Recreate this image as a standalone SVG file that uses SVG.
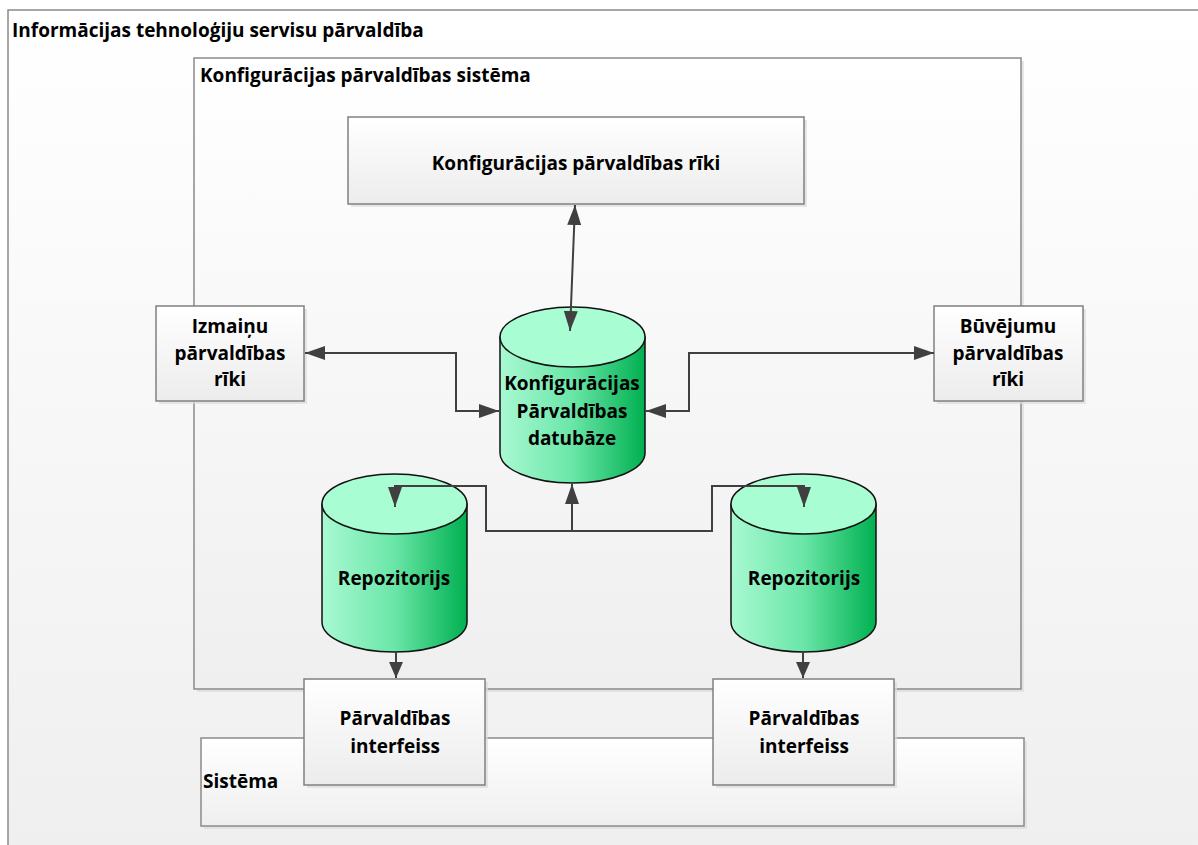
<svg xmlns="http://www.w3.org/2000/svg" width="1198" height="845" viewBox="0 0 1198 845">
  <defs>
    <linearGradient id="panelFill" x1="0" y1="0" x2="0" y2="1">
      <stop offset="0" stop-color="#ffffff"/>
      <stop offset="1" stop-color="#efefef"/>
    </linearGradient>
    <linearGradient id="boxFill" x1="0" y1="0" x2="0" y2="1">
      <stop offset="0" stop-color="#ffffff"/>
      <stop offset="1" stop-color="#ececec"/>
    </linearGradient>
    <linearGradient id="cylBody" x1="0" y1="0" x2="1" y2="0">
      <stop offset="0" stop-color="#a9f9d2"/>
      <stop offset="0.5" stop-color="#6ae6a8"/>
      <stop offset="1" stop-color="#00b050"/>
    </linearGradient>
    <marker id="head" viewBox="0 0 20 14" refX="20" refY="7" markerWidth="20" markerHeight="14" markerUnits="userSpaceOnUse" orient="auto-start-reverse">
      <path d="M0,0 L20,7 L0,14 z" fill="#404040"/>
    </marker>
    <marker id="headSmall" viewBox="0 0 16 14" refX="16" refY="7" markerWidth="16" markerHeight="14" markerUnits="userSpaceOnUse" orient="auto-start-reverse">
      <path d="M0,0 L16,7 L0,14 z" fill="#404040"/>
    </marker>
  </defs>
  <style>
    text { font-family: "Open Sans", "Liberation Sans", sans-serif; font-weight: bold; font-size: 19px; fill: #000; }
    .c { text-anchor: middle; }
    .panel { fill: url(#panelFill); stroke: #8a8a8a; stroke-width: 1.5; }
    .box { fill: url(#boxFill); stroke: #808080; stroke-width: 1.5; }
    .shadow { fill: #dcdcdc; opacity: 0.7; }
    .cyl-body { fill: url(#cylBody); stroke: #111; stroke-width: 1.5; }
    .cyl-top { fill: #a8fdd3; stroke: #111; stroke-width: 1.5; }
    .link { fill: none; stroke: #404040; stroke-width: 2; }
  </style>

  <rect width="1198" height="845" fill="#ffffff"/>

  <!-- outer area: IT service management -->
  <g id="it-service-management">
    <rect class="panel" x="8" y="10" width="1200" height="850"/>
    <text x="12" y="37">Informācijas tehnoloģiju servisu pārvaldība</text>
  </g>

  <!-- configuration management system -->
  <g id="config-system">
    <rect class="shadow" x="197" y="61" width="827" height="631"/>
    <rect class="panel" x="194" y="58" width="827" height="631"/>
    <text x="200" y="82">Konfigurācijas pārvaldības sistēma</text>
  </g>

  <!-- target system -->
  <g id="system">
    <rect class="shadow" x="204" y="741" width="823" height="88"/>
    <rect class="panel" x="201" y="738" width="823" height="88"/>
    <text x="203" y="788">Sistēma</text>
  </g>

  <g id="config-tools">
    <rect class="shadow" x="351" y="120" width="456" height="87"/>
    <rect class="box" x="348" y="117" width="456" height="87"/>
    <text class="c" x="576" y="170">Konfigurācijas pārvaldības rīki</text>
  </g>

  <g id="change-tools">
    <rect class="shadow" x="159" y="309" width="148" height="95"/>
    <rect class="box" x="156" y="306" width="148" height="95"/>
    <text class="c" x="230" y="333">Izmaiņu</text>
    <text class="c" x="230" y="360">pārvaldības</text>
    <text class="c" x="230" y="386">rīki</text>
  </g>

  <g id="build-tools">
    <rect class="shadow" x="937" y="309" width="149" height="95"/>
    <rect class="box" x="934" y="306" width="149" height="95"/>
    <text class="c" x="1008" y="333">Būvējumu</text>
    <text class="c" x="1008" y="360">pārvaldības</text>
    <text class="c" x="1008" y="386">rīki</text>
  </g>

  <g id="cmdb">
    <path class="cyl-body" d="M500,337 L500,453 A72.5,30 0 0 0 645,453 L645,337 Z"/>
    <ellipse class="cyl-top" cx="572.5" cy="337" rx="72.5" ry="30"/>
    <text class="c" x="572" y="390">Konfigurācijas</text>
    <text class="c" x="572" y="418">Pārvaldības</text>
    <text class="c" x="572" y="445">datubāze</text>
  </g>

  <g id="repo-left">
    <path class="cyl-body" d="M322,504 L322,622 A72.5,30 0 0 0 467,622 L467,504 Z"/>
    <ellipse class="cyl-top" cx="394.5" cy="504" rx="72.5" ry="30"/>
    <text class="c" x="394" y="585">Repozitorijs</text>
  </g>

  <g id="repo-right">
    <path class="cyl-body" d="M731,504 L731,622 A72.5,30 0 0 0 876,622 L876,504 Z"/>
    <ellipse class="cyl-top" cx="803.5" cy="504" rx="72.5" ry="30"/>
    <text class="c" x="804" y="585">Repozitorijs</text>
  </g>

  <g id="mgmt-interface-left">
    <rect class="shadow" x="307" y="682" width="181" height="106"/>
    <rect class="box" x="304" y="679" width="181" height="106"/>
    <text class="c" x="395" y="725">Pārvaldības</text>
    <text class="c" x="395" y="753">interfeiss</text>
  </g>

  <g id="mgmt-interface-right">
    <rect class="shadow" x="716" y="682" width="181" height="106"/>
    <rect class="box" x="713" y="679" width="181" height="106"/>
    <text class="c" x="804" y="725">Pārvaldības</text>
    <text class="c" x="804" y="753">interfeiss</text>
  </g>

  <g id="connectors">
    <!-- tools <-> database -->
    <path class="link" d="M575,205 L570,331" marker-start="url(#head)" marker-end="url(#head)"/>
    <!-- change tools <-> database -->
    <path class="link" d="M305,353 L456,353 L456,411 L499,411" marker-start="url(#head)" marker-end="url(#head)"/>
    <!-- database <-> build tools -->
    <path class="link" d="M646,411 L689,411 L689,353 L934,353" marker-start="url(#head)" marker-end="url(#head)"/>
    <!-- repositories feeding the database -->
    <path class="link" d="M395,507 L395,486 L486,486 L486,531 L712,531 L712,486 L804,486 L804,507" marker-start="url(#head)" marker-end="url(#head)"/>
    <path class="link" d="M572,531 L572,484" marker-end="url(#head)"/>
    <!-- repositories to interfaces -->
    <path class="link" d="M396,652 L396,678" marker-end="url(#headSmall)"/>
    <path class="link" d="M803,652 L803,678" marker-end="url(#headSmall)"/>
  </g>
</svg>
